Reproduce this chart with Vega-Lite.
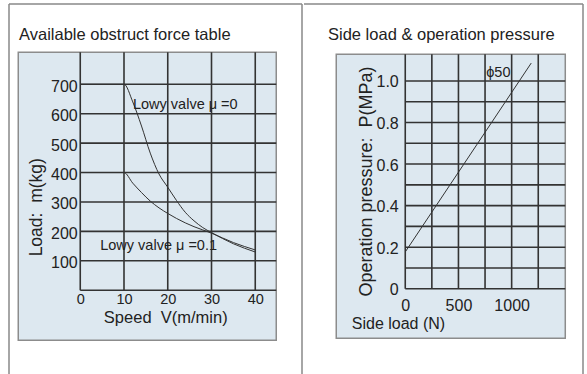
{
  "$schema": "https://vega.github.io/schema/vega-lite/v6.json",
  "padding": {"left": 8, "top": 3, "right": 5, "bottom": 0},
  "background": "white",
  "spacing": 0,
  "config": {
    "view": {"stroke": null},
    "concat": {"spacing": 0},
    "axis": {
      "domain": false, "ticks": false, "grid": false,
      "labelFont": "Liberation Sans", "labelFontSize": 16, "labelColor": "#222",
      "titleFont": "Liberation Sans", "titleFontSize": 17, "titleFontWeight": "normal", "titleColor": "#222",
      "labelFlush": false, "labelOverlap": false
    },
    "text": {"font": "Liberation Sans", "color": "#222"}
  },
  "datasets": {
    "obstruct": [
      {"speed": 0, "load": 700, "valve": "Lowy valve μ =0"},
      {"speed": 10, "load": 700, "valve": "Lowy valve μ =0"},
      {"speed": 12, "load": 640, "valve": "Lowy valve μ =0"},
      {"speed": 14, "load": 558, "valve": "Lowy valve μ =0"},
      {"speed": 16, "load": 466, "valve": "Lowy valve μ =0"},
      {"speed": 18, "load": 395, "valve": "Lowy valve μ =0"},
      {"speed": 20, "load": 350, "valve": "Lowy valve μ =0"},
      {"speed": 22, "load": 305, "valve": "Lowy valve μ =0"},
      {"speed": 24, "load": 265, "valve": "Lowy valve μ =0"},
      {"speed": 26, "load": 236, "valve": "Lowy valve μ =0"},
      {"speed": 28, "load": 213, "valve": "Lowy valve μ =0"},
      {"speed": 30, "load": 196, "valve": "Lowy valve μ =0"},
      {"speed": 35, "load": 158, "valve": "Lowy valve μ =0"},
      {"speed": 40, "load": 130, "valve": "Lowy valve μ =0"},
      {"speed": 0, "load": 400, "valve": "Lowy valve μ =0.1"},
      {"speed": 10, "load": 400, "valve": "Lowy valve μ =0.1"},
      {"speed": 12, "load": 364, "valve": "Lowy valve μ =0.1"},
      {"speed": 14, "load": 332, "valve": "Lowy valve μ =0.1"},
      {"speed": 16, "load": 303, "valve": "Lowy valve μ =0.1"},
      {"speed": 18, "load": 280, "valve": "Lowy valve μ =0.1"},
      {"speed": 20, "load": 261, "valve": "Lowy valve μ =0.1"},
      {"speed": 22, "load": 244, "valve": "Lowy valve μ =0.1"},
      {"speed": 24, "load": 229, "valve": "Lowy valve μ =0.1"},
      {"speed": 26, "load": 216, "valve": "Lowy valve μ =0.1"},
      {"speed": 28, "load": 205, "valve": "Lowy valve μ =0.1"},
      {"speed": 30, "load": 194, "valve": "Lowy valve μ =0.1"},
      {"speed": 35, "load": 162, "valve": "Lowy valve μ =0.1"},
      {"speed": 40, "load": 137, "valve": "Lowy valve μ =0.1"}
    ],
    "side": [
      {"sideLoad": 0, "pressure": 0.177, "bore": "ϕ50"},
      {"sideLoad": 1184, "pressure": 1.086, "bore": "ϕ50"}
    ]
  },
  "hconcat": [
    {
      "width": 293,
      "height": 370,
      "title": {"text": "Available obstruct force table", "anchor": "start", "frame": "group", "offset": -40, "dx": 10, "fontSize": 16.5, "fontWeight": "normal", "font": "Liberation Sans", "color": "#222"},
      "layer": [
        {
          "data": {"values": [{}]},
          "mark": {"type": "rect", "fill": "#dde8f0", "stroke": "#8c8c8c", "strokeWidth": 1.5},
          "encoding": {
            "x": {"datum": -14.17, "type": "quantitative", "scale": {"domain": [-16.286, 50.686], "nice": false, "zero": false},
              "axis": {"title": "Speed\u00a0 V(m/min)", "values": [0, 10, 20, 30, 40], "orient": "bottom", "offset": -83.75, "zindex": 2, "labelPadding": 2, "labelFontSize": 14.5, "titleFontSize": 16.5, "titleX": 156.25, "titleY": 27.5, "titleAlign": "center", "titleBaseline": "middle"}},
            "x2": {"datum": 44.8},
            "y": {"datum": -169.9, "type": "quantitative", "scale": {"domain": [-284.6, 972.7], "nice": false, "zero": false},
              "axis": {"title": "Load:\u00a0 m(kg)", "values": [100, 200, 300, 400, 500, 600, 700], "orient": "left", "offset": -71.25, "zindex": 2, "labelPadding": 3, "labelOffset": 2, "titleFontSize": 17.5, "titleX": -43.3, "titleY": 202.75, "titleAngle": 270, "titleAlign": "center", "titleBaseline": "middle"}},
            "y2": {"datum": 808.7}
          }
        },
        {
          "data": {"values": [{"v": 0}, {"v": 10}, {"v": 20}, {"v": 30}, {"v": 40}]},
          "mark": {"type": "rule", "stroke": "#333", "strokeWidth": 1.6},
          "encoding": {
            "x": {"field": "v", "type": "quantitative", "scale": {"domain": [-16.286, 50.686], "nice": false, "zero": false}},
            "y": {"datum": 0, "type": "quantitative", "scale": {"domain": [-284.6, 972.7], "nice": false, "zero": false}},
            "y2": {"datum": 808.7}
          }
        },
        {
          "data": {"values": [{"v": 0}, {"v": 100}, {"v": 200}, {"v": 300}, {"v": 400}, {"v": 500}, {"v": 600}, {"v": 700}]},
          "mark": {"type": "rule", "stroke": "#333", "strokeWidth": 1.6},
          "encoding": {
            "y": {"field": "v", "type": "quantitative", "scale": {"domain": [-284.6, 972.7], "nice": false, "zero": false}},
            "x": {"datum": 0, "type": "quantitative", "scale": {"domain": [-16.286, 50.686], "nice": false, "zero": false}},
            "x2": {"datum": 44.8}
          }
        },
        {
          "data": {"name": "obstruct"},
          "mark": {"type": "line", "stroke": "#333", "strokeWidth": 1, "interpolate": "monotone"},
          "encoding": {
            "x": {"field": "speed", "type": "quantitative", "scale": {"domain": [-16.286, 50.686], "nice": false, "zero": false}},
            "y": {"field": "load", "type": "quantitative", "scale": {"domain": [-284.6, 972.7], "nice": false, "zero": false}},
            "detail": {"field": "valve", "type": "nominal"}
          }
        },
        {
          "data": {"values": [{}]},
          "mark": {"type": "text", "text": "Lowy valve μ =0", "align": "left", "baseline": "middle", "fontSize": 14.5},
          "encoding": {
            "x": {"datum": 12.05, "type": "quantitative", "scale": {"domain": [-16.286, 50.686], "nice": false, "zero": false}},
            "y": {"datum": 629, "type": "quantitative", "scale": {"domain": [-284.6, 972.7], "nice": false, "zero": false}}
          }
        },
        {
          "data": {"values": [{}]},
          "mark": {"type": "text", "text": "Lowy valve μ =0.1", "align": "left", "baseline": "middle", "fontSize": 14.5},
          "encoding": {
            "x": {"datum": 4.57, "type": "quantitative", "scale": {"domain": [-16.286, 50.686], "nice": false, "zero": false}},
            "y": {"datum": 150, "type": "quantitative", "scale": {"domain": [-284.6, 972.7], "nice": false, "zero": false}}
          }
        },
        {
          "data": {"values": [{}]},
          "mark": {"type": "rule", "stroke": "#888", "strokeWidth": 1.5},
          "encoding": {
            "x": {"datum": -16.286, "type": "quantitative", "scale": {"domain": [-16.286, 50.686], "nice": false, "zero": false}},
            "y": {"datum": -284.6, "type": "quantitative", "scale": {"domain": [-284.6, 972.7], "nice": false, "zero": false}},
            "y2": {"datum": 972.7}
          }
        },
        {
          "data": {"values": [{}]},
          "mark": {"type": "rule", "stroke": "#888", "strokeWidth": 1.5},
          "encoding": {
            "x": {"datum": 50.686, "type": "quantitative", "scale": {"domain": [-16.286, 50.686], "nice": false, "zero": false}},
            "y": {"datum": -284.6, "type": "quantitative", "scale": {"domain": [-284.6, 972.7], "nice": false, "zero": false}},
            "y2": {"datum": 972.7}
          }
        },
        {
          "data": {"values": [{}]},
          "mark": {"type": "rule", "stroke": "#888", "strokeWidth": 1.5},
          "encoding": {
            "y": {"datum": 972.7, "type": "quantitative", "scale": {"domain": [-284.6, 972.7], "nice": false, "zero": false}},
            "x": {"datum": -16.286, "type": "quantitative", "scale": {"domain": [-16.286, 50.686], "nice": false, "zero": false}},
            "x2": {"datum": 50.686}
          }
        }
      ]
    },
    {
      "width": 279,
      "height": 370,
      "title": {"text": "Side load & operation pressure", "anchor": "start", "frame": "group", "offset": -40, "dx": 24, "fontSize": 16.5, "fontWeight": "normal", "font": "Liberation Sans", "color": "#222"},
      "layer": [
        {
          "data": {"values": [{}]},
          "mark": {"type": "rect", "fill": "#dde8f0", "stroke": "#8c8c8c", "strokeWidth": 1.5},
          "encoding": {
            "x": {"datum": -648.5, "type": "quantitative", "scale": {"domain": [-951.6, 1670.6], "nice": false, "zero": false},
              "axis": {"title": "Side load (N)", "values": [0, 500, 1000], "format": "d", "orient": "bottom", "offset": -85.25, "zindex": 2, "labelPadding": 9, "labelFontSize": 16, "titleFontSize": 16, "titleX": 47.25, "titleY": 34.5, "titleAlign": "left", "titleBaseline": "middle"}},
            "x2": {"datum": 1504},
            "y": {"datum": -0.238, "type": "quantitative", "scale": {"domain": [-0.4102, 1.3703], "nice": false, "zero": false},
              "axis": {"title": "Operation pressure:\u00a0 P(MPa)", "values": [0, 0.2, 0.4, 0.6, 0.8, 1.0], "labelExpr": "datum.value == 0 ? '0' : format(datum.value, '.1f')", "orient": "left", "offset": -101.25, "zindex": 2, "labelPadding": 7, "labelOffset": 1, "titleFontSize": 18, "titleX": -39, "titleY": 177, "titleAngle": 270, "titleAlign": "center", "titleBaseline": "middle"}},
            "y2": {"datum": 1.1285}
          }
        },
        {
          "data": {"values": [{"v": 0}, {"v": 250}, {"v": 500}, {"v": 750}, {"v": 1000}, {"v": 1250}]},
          "mark": {"type": "rule", "stroke": "#333", "strokeWidth": 1.6},
          "encoding": {
            "x": {"field": "v", "type": "quantitative", "scale": {"domain": [-951.6, 1670.6], "nice": false, "zero": false}},
            "y": {"datum": 0, "type": "quantitative", "scale": {"domain": [-0.4102, 1.3703], "nice": false, "zero": false}},
            "y2": {"datum": 1.1285}
          }
        },
        {
          "data": {"values": [{"v": 0}, {"v": 0.1}, {"v": 0.2}, {"v": 0.3}, {"v": 0.4}, {"v": 0.5}, {"v": 0.6}, {"v": 0.7}, {"v": 0.8}, {"v": 0.9}, {"v": 1.0}]},
          "mark": {"type": "rule", "stroke": "#333", "strokeWidth": 1.6},
          "encoding": {
            "y": {"field": "v", "type": "quantitative", "scale": {"domain": [-0.4102, 1.3703], "nice": false, "zero": false}},
            "x": {"datum": 0, "type": "quantitative", "scale": {"domain": [-951.6, 1670.6], "nice": false, "zero": false}},
            "x2": {"datum": 1504}
          }
        },
        {
          "data": {"name": "side"},
          "mark": {"type": "line", "stroke": "#333", "strokeWidth": 1},
          "encoding": {
            "x": {"field": "sideLoad", "type": "quantitative", "scale": {"domain": [-951.6, 1670.6], "nice": false, "zero": false}},
            "y": {"field": "pressure", "type": "quantitative", "scale": {"domain": [-0.4102, 1.3703], "nice": false, "zero": false}},
            "detail": {"field": "bore", "type": "nominal"}
          }
        },
        {
          "data": {"values": [{}]},
          "mark": {"type": "text", "text": "ϕ50", "align": "left", "baseline": "middle", "fontSize": 14.5},
          "encoding": {
            "x": {"datum": 761, "type": "quantitative", "scale": {"domain": [-951.6, 1670.6], "nice": false, "zero": false}},
            "y": {"datum": 1.036, "type": "quantitative", "scale": {"domain": [-0.4102, 1.3703], "nice": false, "zero": false}}
          }
        },
        {
          "data": {"values": [{}]},
          "mark": {"type": "rule", "stroke": "#888", "strokeWidth": 1.5},
          "encoding": {
            "x": {"datum": 1670.6, "type": "quantitative", "scale": {"domain": [-951.6, 1670.6], "nice": false, "zero": false}},
            "y": {"datum": -0.4102, "type": "quantitative", "scale": {"domain": [-0.4102, 1.3703], "nice": false, "zero": false}},
            "y2": {"datum": 1.3703}
          }
        },
        {
          "data": {"values": [{}]},
          "mark": {"type": "rule", "stroke": "#888", "strokeWidth": 1.5},
          "encoding": {
            "y": {"datum": 1.3703, "type": "quantitative", "scale": {"domain": [-0.4102, 1.3703], "nice": false, "zero": false}},
            "x": {"datum": -951.6, "type": "quantitative", "scale": {"domain": [-951.6, 1670.6], "nice": false, "zero": false}},
            "x2": {"datum": 1670.6}
          }
        }
      ]
    }
  ]
}
